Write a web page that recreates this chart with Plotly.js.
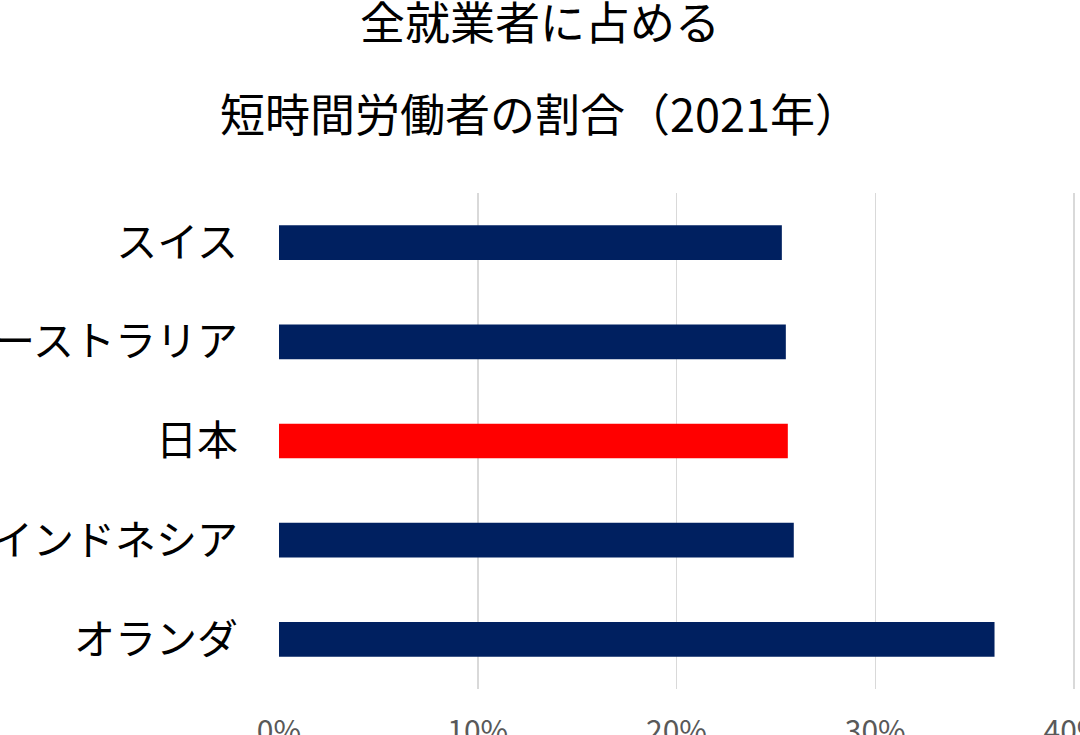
<!DOCTYPE html>
<html>
<head>
<meta charset="utf-8">
<script src="https://cdn.plot.ly/plotly-3.0.1.min.js"></script>
<style>
  html, body { margin: 0; padding: 0; background: #fff; }
  #chart { width: 1080px; height: 735px; }
</style>
</head>
<body>
<div id="chart"></div>
<script>
// countries, listed top to bottom
const countries = ['スイス', 'オーストラリア', '日本', 'インドネシア', 'オランダ'];
// share of short-time workers among all employed (%)
const shares = [25.3, 25.5, 25.6, 25.9, 36.0];
const barColors = ['#002060', '#002060', '#FF0000', '#002060', '#002060'];
const xTicks = [0, 10, 20, 30, 40];
const xTickLabels = ['0%', '10%', '20%', '30%', '40%'];

const jpFont = "'Noto Sans CJK JP', 'Noto Sans', sans-serif";

const trace = {
    type: 'bar',
    orientation: 'h',
    x: shares,
    y: countries,
    marker: { color: barColors, line: { width: 0 } },
    hoverinfo: 'x+y'
};

const layout = {
    width: 1080,
    height: 735,
    paper_bgcolor: '#ffffff',
    plot_bgcolor: '#ffffff',
    font: { family: jpFont, color: '#000000' },
    margin: { l: 279, r: 2, t: 193, b: 46, autoexpand: false },
    title: {
        text: '全就業者に占める',
        font: { family: jpFont, size: 45, color: '#000000' },
        x: 0.5,
        xref: 'container',
        xanchor: 'center',
        y: 0.967,
        yref: 'container',
        yanchor: 'middle'
    },
    annotations: [{
        text: '短時間労働者の割合（2021年）',
        xref: 'paper',
        yref: 'paper',
        x: 0.327,
        y: 1.163,
        xanchor: 'center',
        yanchor: 'middle',
        showarrow: false,
        font: { family: jpFont, size: 45, color: '#000000' }
    }],
    bargap: 0.65,
    xaxis: {
        range: [0, 40.2],
        tickvals: xTicks,
        ticktext: xTickLabels,
        showgrid: true,
        gridcolor: '#d9d9d9',
        gridwidth: 1.5,
        zeroline: false,
        showline: false,
        ticks: '',
        ticklabelstandoff: 22,
        ticklabeloverflow: 'allow',
        tickfont: { family: jpFont, size: 30, color: '#595959' },
        automargin: false,
        fixedrange: true
    },
    yaxis: {
        autorange: 'reversed',
        showgrid: false,
        zeroline: false,
        showline: false,
        ticks: '',
        ticklabelstandoff: 40,
        ticklabeloverflow: 'allow',
        tickfont: { family: jpFont, size: 41, color: '#000000' },
        automargin: false,
        fixedrange: true
    },
    showlegend: false
};

Plotly.newPlot('chart', [trace], layout, { displayModeBar: false, staticPlot: true });
</script>
</body>
</html>
